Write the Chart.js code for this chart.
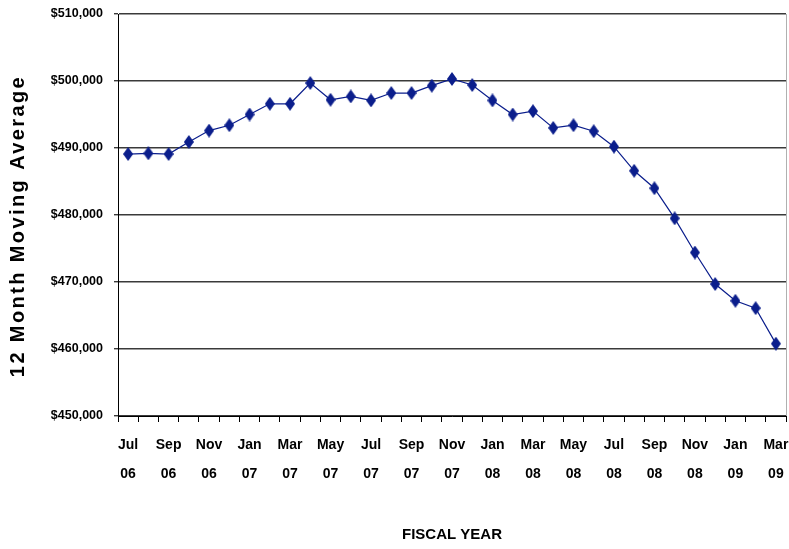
<!DOCTYPE html>
<html lang="en">
<head>
    <meta charset="UTF-8">
    <title>12 Month Moving Average</title>
    <script src="https://cdn.jsdelivr.net/npm/chart.js"></script>
    <style>
        html, body { margin: 0; padding: 0; background: #ffffff; }
        #chart-container { width: 789px; height: 549px; }
        canvas { display: block; }
    </style>
</head>
<body>
    <div id="chart-container">
        <canvas id="myChart"></canvas>
    </div>

    <script>
        // Months from Jul 06 to Mar 09
        const months = ['Jul', 'Aug', 'Sep', 'Oct', 'Nov', 'Dec',
            'Jan', 'Feb', 'Mar', 'Apr', 'May', 'Jun', 'Jul', 'Aug', 'Sep', 'Oct', 'Nov', 'Dec',
            'Jan', 'Feb', 'Mar', 'Apr', 'May', 'Jun', 'Jul', 'Aug', 'Sep', 'Oct', 'Nov', 'Dec',
            'Jan', 'Feb', 'Mar'];
        const years = ['06', '06', '06', '06', '06', '06',
            '07', '07', '07', '07', '07', '07', '07', '07', '07', '07', '07', '07',
            '08', '08', '08', '08', '08', '08', '08', '08', '08', '08', '08', '08',
            '09', '09', '09'];

        // 12 month moving average ($)
        const movingAverage = [
            489100, 489200, 489100, 490900, 492600, 493400,
            495000, 496600, 496600, 499700, 497200, 497700,
            497100, 498200, 498200, 499300, 500300, 499400,
            497100, 495000, 495500, 493000, 493400, 492500,
            490200, 486600, 484000, 479500, 474400, 469700,
            467200, 466100, 460800
        ];

        const yTicks = { min: 450000, max: 510000, step: 10000 };
        const yTitle = '12 Month Moving Average';

        const navy = '#0b1e8c';
        const sans = "'Liberation Sans', Arial, sans-serif";

        // tall diamond marker
        const marker = document.createElement('canvas');
        marker.width = 10;
        marker.height = 14;
        const mctx = marker.getContext('2d');
        mctx.fillStyle = navy;
        mctx.beginPath();
        mctx.moveTo(5, 0);
        mctx.lineTo(10, 7);
        mctx.lineTo(5, 14);
        mctx.lineTo(0, 7);
        mctx.closePath();
        mctx.fill();

        // right border of the plot + spaced out y axis title
        const extras = {
            id: 'extras',
            afterDraw(chart) {
                const { ctx, chartArea } = chart;
                ctx.save();
                ctx.strokeStyle = '#b0b0b0';
                ctx.lineWidth = 1;
                ctx.beginPath();
                ctx.moveTo(chartArea.right + 0.5, chartArea.top);
                ctx.lineTo(chartArea.right + 0.5, chartArea.bottom);
                ctx.stroke();

                ctx.translate(18, 226);
                ctx.rotate(-Math.PI / 2);
                ctx.font = 'bold 20px ' + sans;
                ctx.letterSpacing = '2.4px';
                ctx.fillStyle = '#000';
                ctx.textAlign = 'center';
                ctx.textBaseline = 'middle';
                ctx.fillText(yTitle, 0, 0);
                ctx.restore();
            }
        };

        const ctx = document.getElementById('myChart').getContext('2d');
        new Chart(ctx, {
            type: 'line',
            data: {
                labels: months.map((m, i) => m + ' ' + years[i]),
                datasets: [{
                    label: yTitle,
                    data: movingAverage,
                    borderColor: navy,
                    borderWidth: 1.2,
                    pointStyle: marker,
                    pointRadius: 6,
                    pointBackgroundColor: navy,
                    pointBorderColor: navy,
                    tension: 0,
                    fill: false
                }]
            },
            options: {
                responsive: true,
                maintainAspectRatio: false,
                animation: false,
                layout: { autoPadding: false, padding: { top: 14, right: 3, left: 0, bottom: 0 } },
                plugins: {
                    legend: { display: false },
                    tooltip: { enabled: false }
                },
                scales: {
                    x: {
                        type: 'category',
                        offset: true,
                        afterFit: scale => {
                            scale.height = 133;
                            scale.paddingLeft = 0;
                            scale.paddingRight = 0;
                        },
                        grid: {
                            offset: true,
                            drawOnChartArea: false,
                            color: '#000',
                            tickLength: 6
                        },
                        border: { color: '#000', width: 1 },
                        ticks: {
                            autoSkip: false,
                            maxRotation: 0,
                            minRotation: 0,
                            color: '#000',
                            padding: 8,
                            font: { family: sans, size: 14, weight: 'bold', lineHeight: 2.1 },
                            callback: (v, i) => i % 2 === 0 ? [months[i], years[i]] : ''
                        },
                        title: {
                            display: true,
                            text: 'FISCAL YEAR',
                            color: '#000',
                            padding: { top: 0, bottom: 5 },
                            font: { family: sans, size: 15, weight: 'bold' }
                        }
                    },
                    y: {
                        min: yTicks.min,
                        max: yTicks.max,
                        afterFit: scale => {
                            scale.width = 118;
                            scale.paddingTop = 0;
                            scale.paddingBottom = 0;
                        },
                        grid: {
                            color: '#3a3a3a',
                            lineWidth: 1.4,
                            tickLength: 4
                        },
                        border: { color: '#000', width: 1 },
                        ticks: {
                            stepSize: yTicks.step,
                            color: '#000',
                            padding: 11,
                            font: { family: sans, size: 12.5, weight: 'bold' },
                            callback: v => '$' + v.toLocaleString('en-US')
                        }
                    }
                }
            },
            plugins: [extras]
        });
    </script>
</body>
</html>
